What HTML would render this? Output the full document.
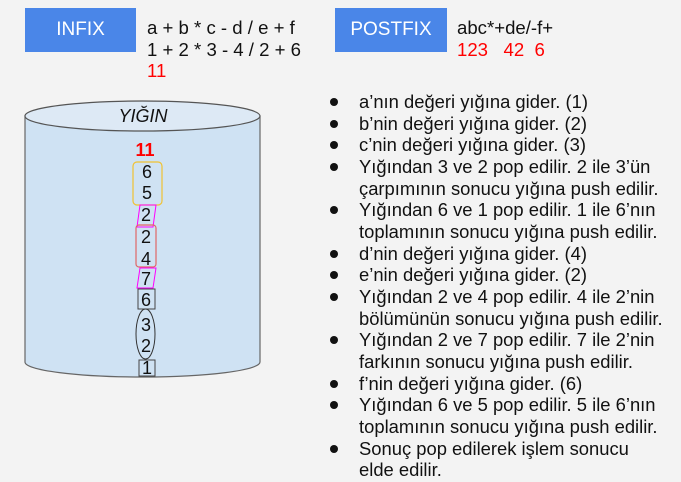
<!DOCTYPE html>
<html><head><meta charset="utf-8"><style>
body{margin:0;width:681px;height:482px;background:#f3f3f3;font-family:"Liberation Sans",sans-serif;position:relative;overflow:hidden}
.b{position:absolute;background:#4a86e8;color:#fff;font-size:19px;text-align:center;line-height:44px;height:44px;top:8px}
.t{position:absolute;font-size:18.6px;line-height:21.5px;color:#111;white-space:nowrap}
.r{color:#f00}
ul{position:absolute;left:330px;top:91px;margin:0;padding:0;list-style:none;font-size:18.4px;line-height:21.65px;color:#111;width:335px}
li{position:relative;padding-left:29px}
li:before{content:"";position:absolute;left:0;top:7px;width:8px;height:8px;border-radius:50%;background:#111}
.n{position:absolute;font-size:18px;color:#111;text-align:center;width:20px}
</style></head><body>
<div class="b" style="left:25px;width:111px">INFIX</div>
<div class="b" style="left:335px;width:112px">POSTFIX</div>
<div class="t" style="left:147px;top:17px">a + b * c - d / e + f<br>1 + 2 * 3 - 4 / 2 + 6<br><span class="r">11</span></div>
<div class="t" style="left:457px;top:17px">abc*+de/-f+<br><span class="r">123&nbsp;&nbsp; 42&nbsp; 6</span></div>
<svg width="681" height="482" style="position:absolute;left:0;top:0">
<path d="M25,116 L25,362 A117.5,15 0 0 0 260,362 L260,116 Z" fill="#cfe2f3" stroke="#666" stroke-width="1.2"/>
<ellipse cx="142.5" cy="116" rx="117.5" ry="15" fill="#dde9f5" stroke="#555" stroke-width="1.2"/>
<rect x="133" y="162" width="29" height="43" rx="4" fill="none" stroke="#f1c232" stroke-width="1.2"/>
<polygon points="140,205 156,205 153,227 137,227" fill="none" stroke="#f0f"/>
<rect x="136" y="225" width="20" height="42" rx="3" fill="none" stroke="#e06666" stroke-width="1.2"/>
<polygon points="140,268 156,268 153,288 137,288" fill="none" stroke="#f0f"/>
<rect x="138" y="289" width="17" height="20" fill="none" stroke="#444"/>
<ellipse cx="145.5" cy="334" rx="9.5" ry="25" fill="none" stroke="#333"/>
<rect x="139" y="360" width="16" height="16" fill="none" stroke="#444"/>
</svg>
<div class="t" style="left:113px;top:106px;width:60px;text-align:center;font-style:italic;font-size:18px">YIĞIN</div>
<div class="n" style="left:135px;top:140px;color:#f00;font-weight:bold">11</div>
<div class="n" style="left:137px;top:162px">6</div>
<div class="n" style="left:137px;top:183px">5</div>
<div class="n" style="left:136px;top:205px">2</div>
<div class="n" style="left:136px;top:227px">2</div>
<div class="n" style="left:136px;top:249px">4</div>
<div class="n" style="left:136px;top:269px">7</div>
<div class="n" style="left:136px;top:290px">6</div>
<div class="n" style="left:136px;top:315px">3</div>
<div class="n" style="left:136px;top:336px">2</div>
<div class="n" style="left:137px;top:358px">1</div>
<ul>
<li>a’nın değeri yığına gider. (1)</li>
<li>b’nin değeri yığına gider. (2)</li>
<li>c’nin değeri yığına gider. (3)</li>
<li>Yığından 3 ve 2 pop edilir. 2 ile 3’ün çarpımının sonucu yığına push edilir.</li>
<li>Yığından 6 ve 1 pop edilir. 1 ile 6’nın toplamının sonucu yığına push edilir.</li>
<li>d’nin değeri yığına gider. (4)</li>
<li>e’nin değeri yığına gider. (2)</li>
<li>Yığından 2 ve 4 pop edilir. 4 ile 2’nin bölümünün sonucu yığına push edilir.</li>
<li>Yığından 2 ve 7 pop edilir. 7 ile 2’nin farkının sonucu yığına push edilir.</li>
<li>f’nin değeri yığına gider. (6)</li>
<li>Yığından 6 ve 5 pop edilir. 5 ile 6’nın toplamının sonucu yığına push edilir.</li>
<li>Sonuç pop edilerek işlem sonucu elde edilir.</li>
</ul>
</body></html>
